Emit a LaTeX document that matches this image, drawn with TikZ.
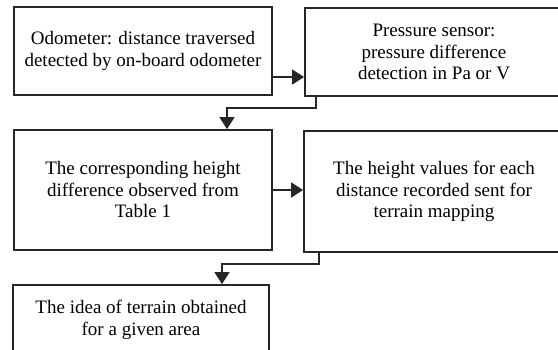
\documentclass[tikz,border=0pt]{standalone}
\usepackage{fontspec}
\setmainfont{Liberation Serif}
\usepackage{tikz}
\usetikzlibrary{arrows.meta}

\tikzset{
  stepbox/.style={draw=black!85, line width=1.8pt, align=center, inner sep=0pt,
    font=\fontsize{19}{21.5}\selectfont},
  arr/.style={draw=black!85, line width=1.6pt, -{Triangle[length=12pt,width=15pt]}}
}

\begin{document}
\begin{tikzpicture}[x=1pt, y=-1pt]
    \useasboundingbox (0,0) rectangle (558,350);
    \clip (0,0) rectangle (558,350);

    \node[stepbox, minimum width=258pt, minimum height=88pt] (odo) at (143,51)
      {Odometer: distance traversed\\detected by on-board odometer};
    \node[stepbox, minimum width=258pt, minimum height=88pt] (press) at (434,52)
      {Pressure sensor:\\pressure difference\\detection in Pa or V};

    \node[stepbox, minimum width=258pt, minimum height=120pt] (height) at (143,190)
      {The corresponding height\\difference observed from\\Table 1};
    \node[stepbox, minimum width=260pt, minimum height=121pt] (map) at (434,191.5)
      {The height values for each\\distance recorded sent for\\terrain mapping};

    \node[stepbox, minimum width=256pt, minimum height=70pt] (area) at (141,320)
      {The idea of terrain obtained\\for a given area};

    \draw[arr] ([yshift=-26pt]odo.east) -- ([yshift=-26pt]odo.east -| press.west);
    \draw[arr] ([xshift=12pt]press.south west) -- ++(0,-11pt) -| ([xshift=84pt]height.north);
    \draw[arr] (height.east) -- (height.east -| map.west);
    \draw[arr] ([xshift=16pt]map.south west) -- ++(0,-11pt) -| ([xshift=81pt]area.north);
  \end{tikzpicture}
\end{document}
